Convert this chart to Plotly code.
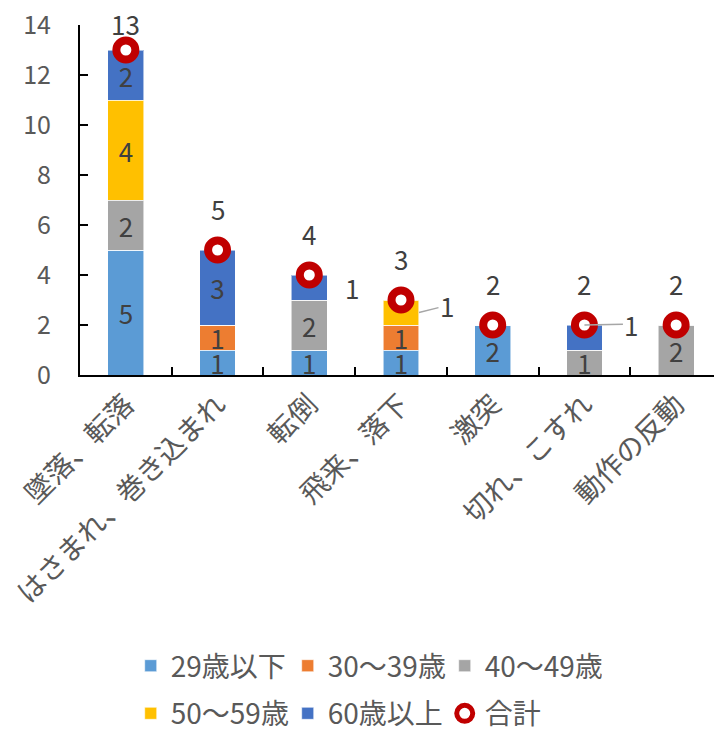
import plotly.graph_objects as go

# ---------------- data ----------------
categories = ["墜落、転落", "はさまれ、巻き込まれ", "転倒", "飛来、落下", "激突", "切れ、こすれ", "動作の反動"]
series_names = ["29歳以下", "30～39歳", "40～49歳", "50～59歳", "60歳以上"]
age_29_under = [5, 1, 1, 1, 2, 0, 0]
age_30_39 = [0, 1, 0, 1, 0, 0, 0]
age_40_49 = [2, 0, 2, 0, 0, 1, 2]
age_50_59 = [4, 0, 0, 1, 0, 0, 0]
age_60_over = [2, 3, 1, 0, 0, 1, 0]
totals = [13, 5, 4, 3, 2, 2, 2]
total_name = "合計"
y_ticks = [0, 2, 4, 6, 8, 10, 12, 14]
# segment labels drawn outside the bar: (series index, category index)
outside_labels = [(4, 2), (3, 3), (4, 5)]

# ---------------- styles ----------------
series_values = [age_29_under, age_30_39, age_40_49, age_50_59, age_60_over]
colors = ["#5B9BD5", "#ED7D31", "#A5A5A5", "#FFC000", "#4472C4"]
FONT = "Noto Sans CJK JP"
LABEL_C = "#404040"
AXIS_C = "#595959"
LBL_SIZE = 26
Y_MAX = 14
PX_PER_UNIT = 25  # plot height 350 px / 14

fig = go.Figure()

for si, (name, vals) in enumerate(zip(series_names, series_values)):
    texts = []
    for ci, v in enumerate(vals):
        if v > 0 and (si, ci) not in outside_labels:
            texts.append(str(v))
        else:
            texts.append("")
    fig.add_trace(go.Bar(
        x=categories, y=vals, name=name,
        marker=dict(color=colors[si], line=dict(color="rgba(255,255,255,0.55)", width=1)),
        text=texts, textposition="inside", insidetextanchor="middle",
        textangle=0, textfont=dict(family=FONT, size=LBL_SIZE, color=LABEL_C),
        constraintext="none", cliponaxis=False,
        legend="legend" if si < 3 else "legend2",
        hoverinfo="skip",
    ))

fig.add_trace(go.Scatter(
    x=categories, y=totals, name=total_name, mode="markers",
    marker=dict(symbol="circle", size=19, color="white",
                line=dict(color="#C00000", width=8)),
    legend="legend2", cliponaxis=False, hoverinfo="skip",
))

annotations = []
# total labels above markers
for c, t in zip(categories, totals):
    shift = min(42, (Y_MAX - t) * PX_PER_UNIT + 2)
    annotations.append(dict(x=c, y=t, text=str(t), showarrow=False, yshift=shift,
                            font=dict(family=FONT, size=LBL_SIZE, color=LABEL_C)))

# outside segment labels
label_styles = {
    (4, 2): dict(showarrow=False, xshift=43, yshift=0),
    (3, 3): dict(showarrow=True, xshift=18, ax=28, ay=-7),
    (4, 5): dict(showarrow=True, xshift=0, ax=47, ay=-1),
}
for (si, ci) in outside_labels:
    v = series_values[si][ci]
    base = sum(series_values[k][ci] for k in range(si))
    st = label_styles[(si, ci)]
    y = base + v / 2 if (si, ci) != (4, 5) else base + v
    a = dict(x=categories[ci], y=y, text=str(v),
             font=dict(family=FONT, size=LBL_SIZE, color=LABEL_C))
    if st["showarrow"]:
        a.update(showarrow=True, arrowhead=0, arrowwidth=1.5, arrowcolor="#A6A6A6",
                 ax=st["ax"], ay=st["ay"], axref="pixel", ayref="pixel",
                 xshift=st["xshift"], standoff=0, startstandoff=0)
    else:
        a.update(showarrow=False, xshift=st["xshift"], yshift=st["yshift"])
    annotations.append(a)

legend_common = dict(
    orientation="h", xanchor="left", yanchor="top",
    font=dict(family=FONT, size=28, color=AXIS_C),
    entrywidth=112, entrywidthmode="pixels",
    bgcolor="rgba(0,0,0,0)", itemclick=False, itemdoubleclick=False,
    traceorder="normal",
)

# page body has an 8px margin; the figure is sized/margined to compensate
fig.update_layout(
    width=714, height=722,
    margin=dict(l=72, r=0, t=17, b=355, autoexpand=False),
    paper_bgcolor="white", plot_bgcolor="white",
    barmode="stack", bargap=0.61,
    font=dict(family=FONT, color=AXIS_C),
    showlegend=True,
    legend=dict(x=0.079, y=-0.76, **legend_common),
    legend2=dict(x=0.079, y=-0.896, **legend_common),
    annotations=annotations,
    xaxis=dict(
        type="category", tickangle=-45, tickson="boundaries",
        ticks="inside", ticklen=8, tickcolor="black", tickwidth=2,
        showline=True, linecolor="black", linewidth=2,
        showgrid=False, zeroline=False, automargin=False,
        tickfont=dict(family=FONT, size=28, color=AXIS_C),
        ticklabeloverflow="allow",
    ),
    yaxis=dict(
        range=[0, Y_MAX], tickvals=y_ticks, ticks="inside", ticklen=8,
        tickcolor="black", tickwidth=2, showline=True, linecolor="black",
        linewidth=2, showgrid=False, zeroline=False, automargin=False,
        tickfont=dict(family=FONT, size=25, color=AXIS_C),
        ticklabelstandoff=22, ticklabeloverflow="allow",
    ),
)

fig.write_html("out.html")
